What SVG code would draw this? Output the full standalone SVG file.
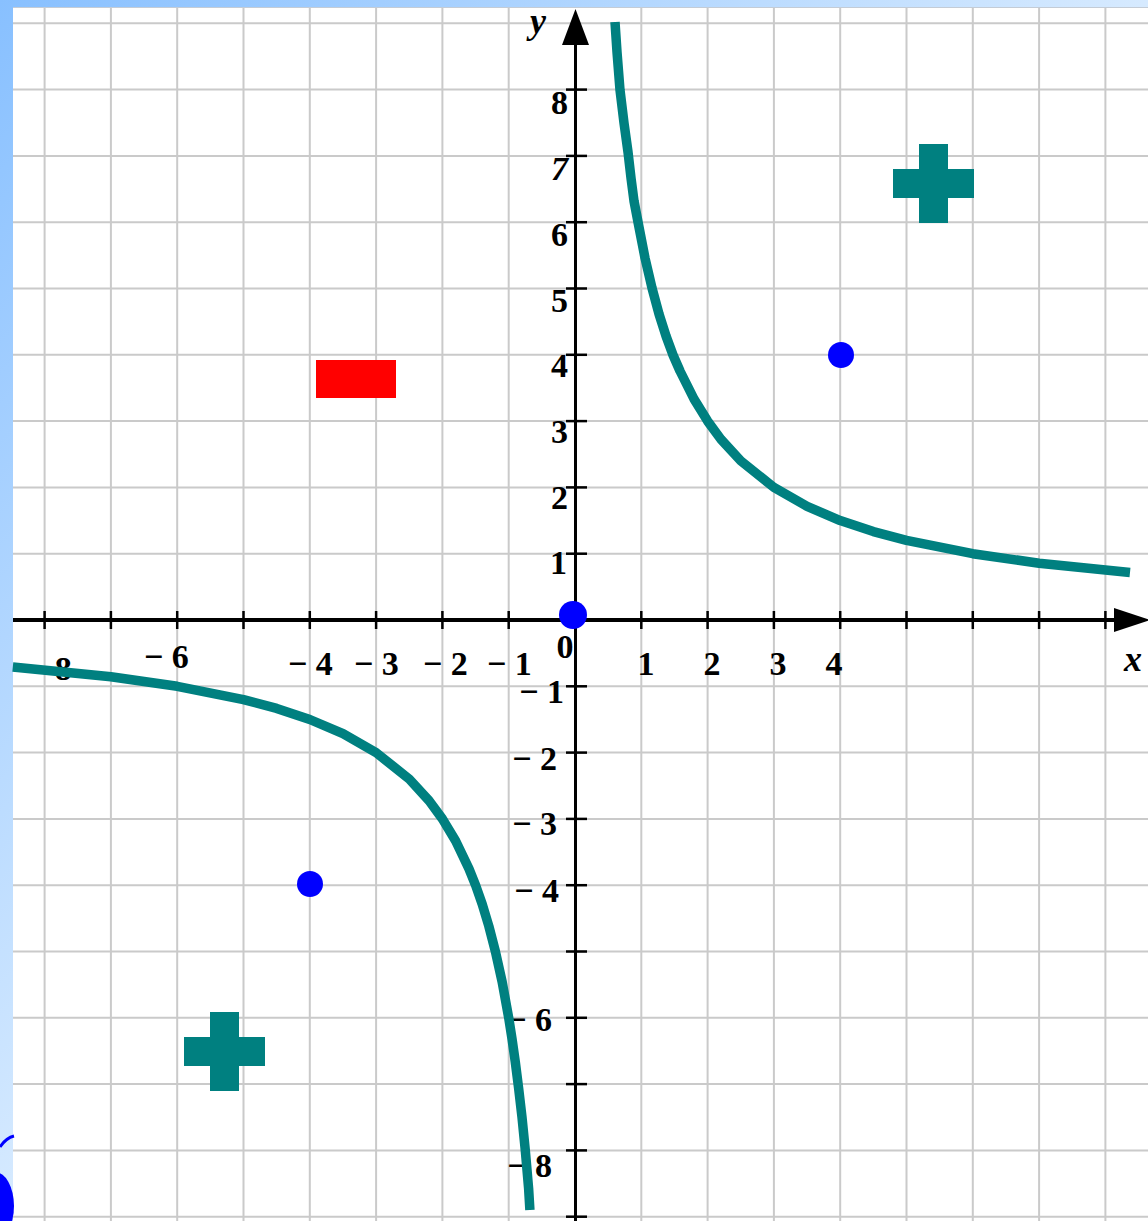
<svg xmlns="http://www.w3.org/2000/svg" width="1148" height="1221" viewBox="0 0 1148 1221">
<defs>
<linearGradient id="bg" x1="0" y1="0" x2="1" y2="1">
<stop offset="0" stop-color="#88c0ff"/>
<stop offset="0.5" stop-color="#d6eaff"/>
<stop offset="1" stop-color="#eef6ff"/>
</linearGradient>
<style>
.grid line{stroke:#cacaca;stroke-width:2}
.tick line{stroke:#000;stroke-width:2.5}
.lbl{font-family:"Liberation Serif","Times New Roman",serif;font-size:34px;font-weight:bold;fill:#000}
.ax{font-family:"Liberation Serif","Times New Roman",serif;font-size:36px;font-style:italic;font-weight:bold;fill:#000}
.curve{fill:none;stroke:#008080;stroke-width:9.5;stroke-linejoin:round;stroke-linecap:butt}
.teal{fill:#008080}
.dot{fill:#0000ff}
</style>
</defs>
<rect x="0" y="0" width="1148" height="1221" fill="url(#bg)"/>
<rect x="13" y="8" width="1135" height="1213" fill="#ffffff"/>
<line x1="13" y1="7.5" x2="1148" y2="7.5" stroke="#c4ccd6" stroke-width="1"/>
<path d="M14,1136 Q6,1138 0,1147" fill="none" stroke="#0000ff" stroke-width="3"/>
<ellipse cx="-5" cy="1206" rx="19" ry="34" fill="#0000ff"/>
<g id="grid" class="grid">
<line x1="44.6" y1="8" x2="44.6" y2="1221"/>
<line x1="110.9" y1="8" x2="110.9" y2="1221"/>
<line x1="177.2" y1="8" x2="177.2" y2="1221"/>
<line x1="243.5" y1="8" x2="243.5" y2="1221"/>
<line x1="309.8" y1="8" x2="309.8" y2="1221"/>
<line x1="376.1" y1="8" x2="376.1" y2="1221"/>
<line x1="442.4" y1="8" x2="442.4" y2="1221"/>
<line x1="508.7" y1="8" x2="508.7" y2="1221"/>
<line x1="641.3" y1="8" x2="641.3" y2="1221"/>
<line x1="707.6" y1="8" x2="707.6" y2="1221"/>
<line x1="773.9" y1="8" x2="773.9" y2="1221"/>
<line x1="840.2" y1="8" x2="840.2" y2="1221"/>
<line x1="906.5" y1="8" x2="906.5" y2="1221"/>
<line x1="972.8" y1="8" x2="972.8" y2="1221"/>
<line x1="1039.1" y1="8" x2="1039.1" y2="1221"/>
<line x1="1105.4" y1="8" x2="1105.4" y2="1221"/>
<line x1="13" y1="23.3" x2="1148" y2="23.3"/>
<line x1="13" y1="89.6" x2="1148" y2="89.6"/>
<line x1="13" y1="155.9" x2="1148" y2="155.9"/>
<line x1="13" y1="222.2" x2="1148" y2="222.2"/>
<line x1="13" y1="288.5" x2="1148" y2="288.5"/>
<line x1="13" y1="354.8" x2="1148" y2="354.8"/>
<line x1="13" y1="421.1" x2="1148" y2="421.1"/>
<line x1="13" y1="487.4" x2="1148" y2="487.4"/>
<line x1="13" y1="553.7" x2="1148" y2="553.7"/>
<line x1="13" y1="686.3" x2="1148" y2="686.3"/>
<line x1="13" y1="752.6" x2="1148" y2="752.6"/>
<line x1="13" y1="818.9" x2="1148" y2="818.9"/>
<line x1="13" y1="885.2" x2="1148" y2="885.2"/>
<line x1="13" y1="951.5" x2="1148" y2="951.5"/>
<line x1="13" y1="1017.8" x2="1148" y2="1017.8"/>
<line x1="13" y1="1084.1" x2="1148" y2="1084.1"/>
<line x1="13" y1="1150.4" x2="1148" y2="1150.4"/>
<line x1="13" y1="1216.7" x2="1148" y2="1216.7"/>
</g>
<g id="axes">
<line x1="13" y1="620" x2="1118" y2="620" stroke="#000" stroke-width="4"/>
<polygon points="1114,608 1150,620 1114,632" fill="#000"/>
<line x1="575.5" y1="40" x2="575.5" y2="1221" stroke="#000" stroke-width="3"/>
<polygon points="575.5,9 562,45 589,45" fill="#000"/>
<g class="tick">
<line x1="44.6" y1="611" x2="44.6" y2="629"/>
<line x1="110.9" y1="611" x2="110.9" y2="629"/>
<line x1="177.2" y1="611" x2="177.2" y2="629"/>
<line x1="243.5" y1="611" x2="243.5" y2="629"/>
<line x1="309.8" y1="611" x2="309.8" y2="629"/>
<line x1="376.1" y1="611" x2="376.1" y2="629"/>
<line x1="442.4" y1="611" x2="442.4" y2="629"/>
<line x1="508.7" y1="611" x2="508.7" y2="629"/>
<line x1="641.3" y1="611" x2="641.3" y2="629"/>
<line x1="707.6" y1="611" x2="707.6" y2="629"/>
<line x1="773.9" y1="611" x2="773.9" y2="629"/>
<line x1="840.2" y1="611" x2="840.2" y2="629"/>
<line x1="906.5" y1="611" x2="906.5" y2="629"/>
<line x1="972.8" y1="611" x2="972.8" y2="629"/>
<line x1="1039.1" y1="611" x2="1039.1" y2="629"/>
<line x1="1105.4" y1="611" x2="1105.4" y2="629"/>
<line x1="566" y1="89.6" x2="587" y2="89.6"/>
<line x1="566" y1="155.9" x2="587" y2="155.9"/>
<line x1="566" y1="222.2" x2="587" y2="222.2"/>
<line x1="566" y1="288.5" x2="587" y2="288.5"/>
<line x1="566" y1="354.8" x2="587" y2="354.8"/>
<line x1="566" y1="421.1" x2="587" y2="421.1"/>
<line x1="566" y1="487.4" x2="587" y2="487.4"/>
<line x1="566" y1="553.7" x2="587" y2="553.7"/>
<line x1="566" y1="686.3" x2="587" y2="686.3"/>
<line x1="566" y1="752.6" x2="587" y2="752.6"/>
<line x1="566" y1="818.9" x2="587" y2="818.9"/>
<line x1="566" y1="885.2" x2="587" y2="885.2"/>
<line x1="566" y1="951.5" x2="587" y2="951.5"/>
<line x1="566" y1="1017.8" x2="587" y2="1017.8"/>
<line x1="566" y1="1084.1" x2="587" y2="1084.1"/>
<line x1="566" y1="1150.4" x2="587" y2="1150.4"/>
<line x1="566" y1="1216.7" x2="587" y2="1216.7"/>
</g>
</g>
<g id="labels">
<text class="ax" x="530" y="33">y</text>
<text class="ax" x="1124" y="671">x</text>
<text class="lbl" x="568" y="114" text-anchor="end">8</text>
<text class="lbl" x="568" y="180" text-anchor="end" font-weight="normal" font-style="italic">7</text>
<text class="lbl" x="568" y="246" text-anchor="end">6</text>
<text class="lbl" x="568" y="312" text-anchor="end">5</text>
<text class="lbl" x="568" y="377" text-anchor="end">4</text>
<text class="lbl" x="568" y="443" text-anchor="end">3</text>
<text class="lbl" x="568" y="509" text-anchor="end">2</text>
<text class="lbl" x="567" y="574" text-anchor="end">1</text>
<text class="lbl" x="564" y="703" text-anchor="end">− 1</text>
<text class="lbl" x="557" y="770" text-anchor="end">− 2</text>
<text class="lbl" x="557" y="835" text-anchor="end">− 3</text>
<text class="lbl" x="559" y="902" text-anchor="end">− 4</text>
<text class="lbl" x="552" y="1031" text-anchor="end">− 6</text>
<text class="lbl" x="552" y="1177" text-anchor="end">− 8</text>
<text class="lbl" x="565" y="658" text-anchor="middle">0</text>
<text class="lbl" x="646" y="675" text-anchor="middle">1</text>
<text class="lbl" x="712" y="675" text-anchor="middle">2</text>
<text class="lbl" x="778" y="675" text-anchor="middle">3</text>
<text class="lbl" x="834" y="675" text-anchor="middle">4</text>
<text class="lbl" x="487" y="675">− 1</text>
<text class="lbl" x="423" y="675">− 2</text>
<text class="lbl" x="354" y="675">− 3</text>
<text class="lbl" x="288" y="675">− 4</text>
<text class="lbl" x="144" y="668">− 6</text>
<text class="lbl" x="27" y="680">− 8</text>
</g>
<g id="curves">
<polyline id="branch-upper" class="curve" points="615,22 617,52 620,90 624,123 628,152 631,178 634,201 638,222 645,258 652,288 659,314 666,336 673,355 680,371 694,399 707.6,421.1 720.9,439.2 740.8,460.9 773.9,487.4 807.1,506.3 840.2,520.6 873.4,531.6 906.5,540.4 972.8,553.7 1039.1,563.2 1130,572.5"/>
<polyline id="branch-lower" class="curve" points="12.8,666.9 110.9,676.8 177.2,686.3 243.5,699.6 276.7,708.4 309.8,719.5 343,733.7 376.1,752.6 409.3,779.1 429.1,800.8 442.4,818.9 455.7,841 468.9,868.6 475.6,885.2 482.2,904.1 488.8,926 495.4,951.5 502.1,981.6 508.7,1017.8 512,1038.7 515.3,1062 518.6,1088 522,1117.3 525.3,1150.4 528.6,1188.3 529.9,1210"/>
</g>
<g id="plus-upper" class="teal">
<rect x="919" y="144" width="29" height="79"/>
<rect x="893" y="169" width="81" height="29"/>
</g>
<g id="plus-lower" class="teal">
<rect x="210" y="1012" width="29" height="79"/>
<rect x="184" y="1037" width="81" height="29"/>
</g>
<g id="minus">
<rect x="316" y="360" width="80" height="38" fill="#ff0000"/>
</g>
<g id="points">
<circle class="dot" cx="573" cy="615" r="14"/>
<circle class="dot" cx="841" cy="355" r="13"/>
<circle class="dot" cx="310" cy="884" r="13"/>
</g>
</svg>
